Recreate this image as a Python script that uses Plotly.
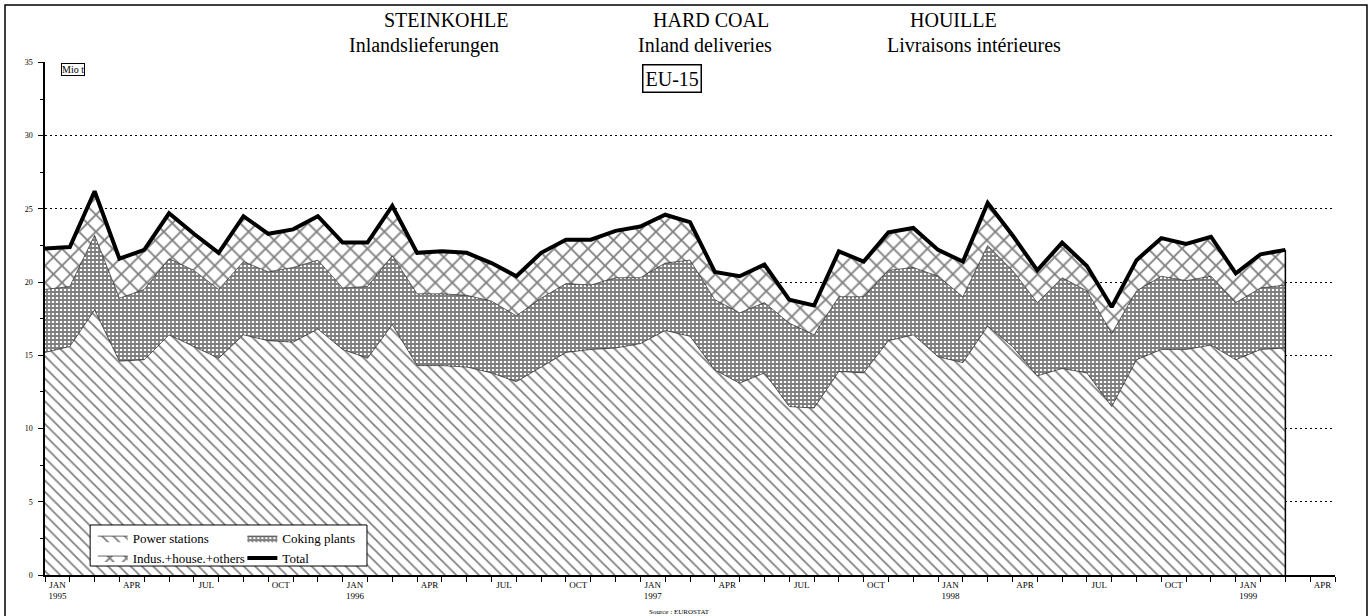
import plotly.graph_objects as go

# ---------------- data (Mio t), monthly Jan 1995 .. Mar 1999 ----------------
month_index = list(range(51))
power_stations = [15.2, 15.6, 18.1, 14.6, 14.7, 16.4, 15.6, 14.8, 16.4, 16.0, 15.9, 16.8,
                  15.4, 14.8, 17.1, 14.3, 14.3, 14.2, 13.8, 13.2, 14.2, 15.2, 15.4, 15.5,
                  15.8, 16.7, 16.3, 14.0, 13.1, 13.8, 11.5, 11.4, 13.9, 13.8, 16.0, 16.4,
                  14.9, 14.5, 17.0, 15.6, 13.6, 14.1, 13.8, 11.5, 14.7, 15.4, 15.4, 15.7,
                  14.7, 15.4, 15.5]
coking_plants = [4.3, 4.1, 5.1, 4.3, 4.8, 5.2, 5.2, 4.7, 5.0, 4.7, 5.1, 4.7,
                 4.2, 4.9, 4.7, 4.9, 4.9, 4.9, 4.9, 4.5, 4.7, 4.7, 4.4, 4.8,
                 4.5, 4.6, 5.2, 4.8, 4.8, 4.8, 5.7, 5.0, 5.1, 5.2, 4.8, 4.6,
                 5.5, 4.5, 5.5, 5.2, 5.0, 6.2, 5.6, 5.0, 4.7, 5.0, 4.7, 4.7,
                 3.9, 4.2, 4.3]
indus_house_others = [2.8, 2.7, 3.0, 2.7, 2.7, 3.1, 2.5, 2.5, 3.1, 2.6, 2.6, 3.0,
                      3.1, 3.0, 3.4, 2.8, 2.9, 2.9, 2.6, 2.7, 3.1, 3.0, 3.1, 3.2,
                      3.5, 3.3, 2.6, 1.9, 2.5, 2.6, 1.6, 2.0, 3.1, 2.4, 2.6, 2.7,
                      1.8, 2.4, 2.9, 2.4, 2.2, 2.4, 1.7, 1.8, 2.1, 2.6, 2.5, 2.7,
                      2.0, 2.3, 2.4]
total = [round(a + b + c, 2) for a, b, c in zip(power_stations, coking_plants, indus_house_others)]

month_names = ["JAN", "APR", "JUL", "OCT"]
years = ["1995", "1996", "1997", "1998", "1999"]
quarter_index = list(range(0, 52, 3))
quarter_labels = []
for q in quarter_index:
    name = month_names[(q // 3) % 4]
    if name == "JAN":
        name = name + "<br>" + years[q // 12]
    quarter_labels.append(name)

y_ticks = [0, 5, 10, 15, 20, 25, 30, 35]

SERIF = "Liberation Serif, Times New Roman, serif"

fig = go.Figure()

fig.add_trace(go.Scatter(
    x=month_index, y=power_stations, name="Power stations", stackgroup="one",
    mode="lines", line=dict(color="black", width=0.6), fillcolor="white",
    fillpattern=dict(shape="\\", size=8, solidity=0.22, fgcolor="black", bgcolor="white"),
    legend="legend", legendrank=1, hoverinfo="skip"))
fig.add_trace(go.Scatter(
    x=month_index, y=coking_plants, name="Coking plants", stackgroup="one",
    mode="lines", line=dict(color="black", width=0.6), fillcolor="white",
    fillpattern=dict(shape="+", size=4, solidity=0.7, fgcolor="black", bgcolor="white"),
    legend="legend2", legendrank=1, hoverinfo="skip"))
fig.add_trace(go.Scatter(
    x=month_index, y=indus_house_others, name="Indus.+house.+others", stackgroup="one",
    mode="lines", line=dict(color="black", width=0.6), fillcolor="white",
    fillpattern=dict(shape="x", size=12, solidity=0.28, fgcolor="black", bgcolor="white"),
    legend="legend", legendrank=2, hoverinfo="skip"))
fig.add_trace(go.Scatter(
    x=month_index, y=total, name="Total", mode="lines",
    line=dict(color="black", width=4), legend="legend2", legendrank=2, hoverinfo="skip"))
# right closing edge of the stacked areas
fig.add_trace(go.Scatter(
    x=[month_index[-1], month_index[-1]], y=[0, total[-1]], mode="lines",
    line=dict(color="black", width=1.5), showlegend=False, hoverinfo="skip"))

fig.update_xaxes(
    range=[0, 52], showgrid=False, zeroline=False,
    showline=True, linecolor="black", linewidth=1.5,
    tickmode="array", tickvals=[q + 0.5 for q in quarter_index], ticktext=quarter_labels,
    ticks="", tickfont=dict(family=SERIF, size=9, color="black"),
    minor=dict(tick0=0, dtick=1, ticks="outside", ticklen=5, tickcolor="black", tickwidth=1.2),
)
fig.update_yaxes(
    range=[0, 35.03], tickmode="array", tickvals=y_ticks,
    showgrid=True, gridcolor="black", griddash="2px,3px", gridwidth=1.2,
    zeroline=False, showline=True, linecolor="black", linewidth=1.5,
    ticks="outside", ticklen=5, tickcolor="black", ticklabelstandoff=4,
    tickfont=dict(family=SERIF, size=8, color="black"),
    minor=dict(tick0=0, dtick=2.5, ticks="outside", ticklen=3, tickcolor="black"),
)

annotations = [
    dict(text="STEINKOHLE", x=0.311, y=1.082),
    dict(text="Inlandslieferungen", x=0.294, y=1.033),
    dict(text="HARD COAL", x=0.516, y=1.082),
    dict(text="Inland deliveries", x=0.512, y=1.033),
    dict(text="HOUILLE", x=0.704, y=1.082),
    dict(text="Livraisons intérieures", x=0.72, y=1.033),
]
for a in annotations:
    a.update(xref="paper", yref="paper", showarrow=False, xanchor="center", yanchor="middle",
             font=dict(family=SERIF, size=20, color="black"))
annotations.append(dict(text="EU-15", x=0.486, y=0.967, xref="paper", yref="paper", showarrow=False,
                        xanchor="center", yanchor="middle",
                        font=dict(family=SERIF, size=20, color="black"), bgcolor="white",
                        bordercolor="black", borderwidth=1.5, borderpad=2))
annotations.append(dict(text="Mio t", x=0.0217, y=0.985, xref="paper", yref="paper", showarrow=False,
                        xanchor="center", yanchor="middle",
                        font=dict(family=SERIF, size=10, color="black"), bgcolor="white",
                        bordercolor="black", borderwidth=1, borderpad=0))
annotations.append(dict(text="Source : EUROSTAT", x=0.492, y=-0.072, xref="paper", yref="paper",
                        xanchor="center", yanchor="middle",
                        showarrow=False, font=dict(family=SERIF, size=7, color="black")))

shapes = [
    # legend frame
    dict(type="rect", xref="paper", yref="paper", x0=0.035, x1=0.2496, y0=0.0175, y1=0.0975,
         line=dict(color="black", width=1), fillcolor="white", layer="above"),
    # outer frame of the page
    dict(type="rect", xref="paper", yref="paper", x0=-0.031, x1=1.0248, y0=-0.09, y1=1.111,
         line=dict(color="black", width=1.5), fillcolor="rgba(0,0,0,0)", layer="above"),
]

fig.update_layout(
    width=1372, height=616,
    margin=dict(l=45, r=37, t=62, b=41),
    paper_bgcolor="white", plot_bgcolor="white",
    showlegend=True,
    legend=dict(x=0.037, y=0.101, xanchor="left", yanchor="top", bgcolor="rgba(0,0,0,0)",
                font=dict(family=SERIF, size=13, color="black"), tracegroupgap=0,
                itemwidth=30, traceorder="normal"),
    legend2=dict(x=0.153, y=0.101, xanchor="left", yanchor="top", bgcolor="rgba(0,0,0,0)",
                 font=dict(family=SERIF, size=13, color="black"), tracegroupgap=0,
                 itemwidth=30, traceorder="normal"),
    annotations=annotations,
    shapes=shapes,
)

fig.write_html("out.html", config={"displayModeBar": False},
               post_script="document.body.style.margin='0';document.body.style.overflow='hidden';")
